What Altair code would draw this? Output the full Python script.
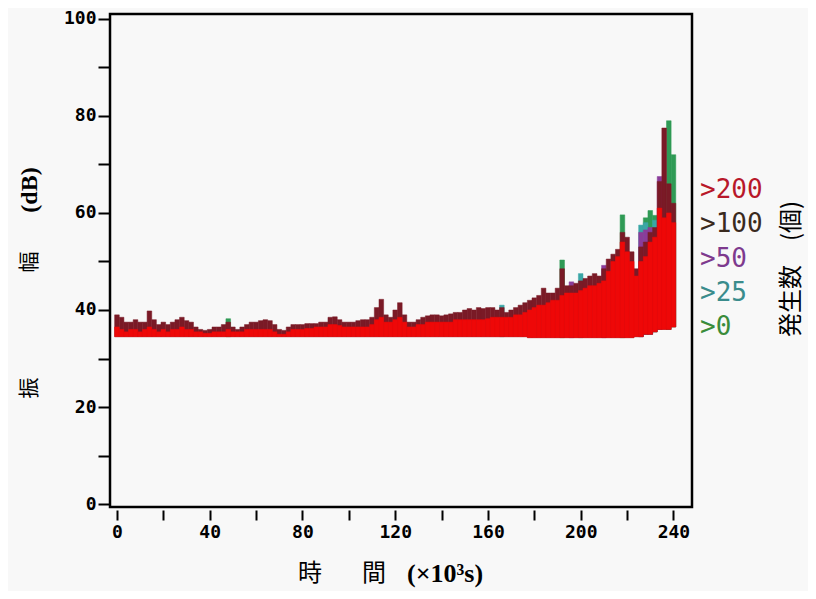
import altair as alt
import pandas as pd

# time bins (x10^3 s), 2-unit wide
times = list(range(0, 242, 2))

# bottom of the amplitude band at each time bin (dB)
lo = [
    34.5, 34.5, 34.5, 34.5, 34.5, 34.5, 34.5, 34.5, 34.5, 34.5,
    34.5, 34.5, 34.5, 34.5, 34.5, 34.5, 34.5, 34.5, 34.5, 34.5,
    34.5, 34.5, 34.5, 34.5, 34.5, 34.5, 34.5, 34.5, 34.5, 34.5,
    34.5, 34.5, 34.5, 34.5, 34.5, 34.5, 34.5, 34.5, 34.5, 34.5,
    34.5, 34.5, 34.5, 34.5, 34.5, 34.5, 34.5, 34.5, 34.5, 34.5,
    34.5, 34.5, 34.5, 34.5, 34.5, 34.5, 34.5, 34.5, 34.5, 34.5,
    34.5, 34.5, 34.5, 34.5, 34.5, 34.5, 34.5, 34.5, 34.5, 34.5,
    34.5, 34.5, 34.5, 34.5, 34.5, 34.5, 34.5, 34.5, 34.5, 34.5,
    34.5, 34.5, 34.5, 34.5, 34.5, 34.5, 34.5, 34.5, 34.5, 34.3,
    34.3, 34.3, 34.3, 34.3, 34.3, 34.3, 34.3, 34.3, 34.3, 34.3,
    34.3, 34.3, 34.3, 34.3, 34.3, 34.3, 34.3, 34.3, 34.3, 34.3,
    34.3, 34.3, 34.5, 34.5, 35.0, 35.0, 35.5, 36.0, 36.0, 36.0,
    36.5,
]

# top of the ">200" (red) region
red_top = [
    36.5, 36.0, 35.5, 36.0, 36.0, 35.5, 36.0, 36.5, 36.0, 35.5,
    36.0, 35.5, 36.0, 36.0, 36.5, 36.0, 36.0, 35.5, 35.5, 35.2,
    35.2, 35.5, 35.5, 35.5, 36.0, 35.5, 35.5, 35.5, 36.0, 36.0,
    36.0, 36.0, 36.0, 36.0, 35.5, 35.0, 35.0, 35.5, 36.0, 36.0,
    36.0, 36.2, 36.2, 36.5, 36.5, 36.5, 37.0, 37.0, 36.8, 36.5,
    36.5, 36.5, 36.5, 36.5, 36.5, 37.0, 38.0, 38.5, 37.5, 37.5,
    38.0, 38.5, 37.5, 36.5, 36.5, 37.0, 37.0, 37.5, 37.5, 37.5,
    37.5, 37.5, 37.5, 38.0, 38.0, 38.0, 38.0, 38.0, 38.0, 38.0,
    38.2, 38.5, 38.5, 38.5, 38.5, 38.5, 39.0, 39.0, 39.5, 40.0,
    40.5, 41.0, 41.0, 41.5, 42.0, 42.0, 43.0, 43.5, 43.5, 43.5,
    44.0, 44.5, 45.0, 45.0, 45.5, 46.0, 48.0, 50.0, 51.0, 54.0,
    52.0, 50.0, 47.0, 50.0, 51.0, 54.0, 55.0, 61.0, 59.0, 60.0,
    58.0,
]

# top of the ">100" (dark) region
cap_top = [
    39.0, 38.5, 37.5, 37.5, 38.0, 37.5, 37.5, 39.8, 38.0, 37.0,
    37.5, 37.0, 37.5, 38.0, 38.5, 37.8, 37.5, 36.5, 36.0, 35.8,
    36.0, 36.5, 36.5, 37.0, 37.5, 36.5, 36.0, 36.5, 37.0, 37.5,
    37.5, 37.8, 38.0, 37.8, 37.0, 36.0, 35.8, 36.5, 37.0, 37.0,
    37.0, 37.2, 37.2, 37.2, 37.5, 37.5, 38.5, 38.6, 38.0, 37.5,
    37.5, 37.5, 37.8, 38.0, 38.0, 38.5, 40.5, 42.2, 39.0, 38.5,
    40.0, 41.5, 39.0, 37.5, 37.5, 38.0, 38.5, 38.8, 39.0, 39.0,
    38.8, 39.0, 39.2, 39.5, 39.5, 40.0, 40.3, 40.0, 40.5, 40.3,
    40.5, 40.5, 40.0, 40.5, 39.5, 40.0, 40.5, 41.0, 41.5, 42.0,
    42.5, 43.0, 44.5, 43.5, 43.5, 44.5, 48.5, 45.0, 45.0, 45.5,
    46.0, 46.5, 47.0, 47.5, 47.0, 48.5, 50.5, 51.5, 52.5, 56.0,
    55.0, 52.0, 48.5, 53.0, 54.0, 56.0, 57.0, 66.5, 77.5, 66.0,
    62.0,
]

# sparse tips (time, top) for the lower-count classes
purple_tips = [(196, 45.8), (210, 49.2), (226, 56.0), (228, 56.5), (230, 57.0), (234, 67.5)]
teal_tips = [(166, 41.0), (200, 47.5), (226, 57.5), (228, 58.0), (232, 58.5)]
green_tips = [(48, 38.2), (192, 50.3), (218, 59.6), (228, 59.0), (230, 60.5), (232, 59.5), (238, 79.0), (240, 72.0)]

layers = ["g", "t", "p", "c", "r"]
layer_colors = ["#2f9a55", "#3aa6a6", "#8a3c9a", "#7a1a26", "#ee0808"]

legend_labels = [">200", ">100", ">50", ">25", ">0"]
legend_colors = ["#b8182a", "#3a2a1e", "#7e3a8e", "#3a8c8c", "#3a8c3a"]

rows = []
def add(layer, t, top):
    i = times.index(t)
    rows.append({"layer": layer, "t0": t - 1, "t1": t + 1, "lo": lo[i], "hi": top})

for t, v in green_tips:
    add("g", t, v)
for t, v in teal_tips:
    add("t", t, v)
for t, v in purple_tips:
    add("p", t, v)
for t, v in zip(times, cap_top):
    add("c", t, v)
for t, v in zip(times, red_top):
    add("r", t, v)
df = pd.DataFrame(rows)

x_scale = alt.Scale(domain=[-3, 248], nice=False, zero=False)
y_scale = alt.Scale(domain=[-0.6, 101], nice=False, zero=False)
col_scale = alt.Scale(domain=layers, range=layer_colors)

bars = alt.Chart(df).mark_rect(strokeWidth=0.5).encode(
    x=alt.X("t0:Q", scale=x_scale, axis=alt.Axis(
        values=list(range(0, 241, 20)),
        labelExpr="datum.value % 40 == 0 ? datum.label : ''",
        title="",
        tickSize=10, tickWidth=2, tickColor="black", domain=False, offset=3, grid=False,
        labelFont="DejaVu Sans Mono", labelFontSize=18, labelFontWeight="bold", labelColor="black",
        labelPadding=3, labelOverlap=False, labelFlush=False,
    )),
    x2="t1:Q",
    y=alt.Y("lo:Q", scale=y_scale, axis=alt.Axis(
        values=list(range(0, 101, 10)),
        labelExpr="datum.value % 20 == 0 ? datum.label : ''",
        title="",
        tickSize=12, tickWidth=2, tickColor="black", domain=False, grid=False,
        labelFont="DejaVu Sans Mono", labelFontSize=18, labelFontWeight="bold", labelColor="black",
        labelPadding=2, labelOverlap=False, labelFlush=False,
    )),
    y2="hi:Q",
    color=alt.Color("layer:N", scale=col_scale, legend=None),
    stroke=alt.Stroke("layer:N", scale=col_scale, legend=None),
)

leg_df = pd.DataFrame({"label": legend_labels, "col": legend_colors})
legend = alt.Chart(leg_df).mark_text(
    align="left", baseline="middle", font="DejaVu Sans Mono", fontSize=26
).encode(
    x=alt.value(590),
    y=alt.Y("label:N", sort=legend_labels, scale=alt.Scale(range=[176, 313], padding=0), axis=None),
    text="label:N",
    color=alt.Color("col:N", scale=None),
)

# title texts
x_title_kanji = ["時", "間"]
x_title_unit = ["(×10³s)"]
y_title_kanji = ["振　　　　　幅"]
y_title_unit = ["(dB)"]
side_title = ["発生数　(個)"]

def txt(text, x, y, **kw):
    return alt.Chart(pd.DataFrame({"t": [text]})).mark_text(color="black", **kw).encode(
        x=alt.value(x), y=alt.value(y), text="t:N")

cjk = "Noto Sans CJK JP"
serif = "Liberation Serif"
titles = [
    txt(x_title_kanji[0], 200, 560, font=cjk, fontSize=24, align="center", baseline="middle"),
    txt(x_title_kanji[1], 264, 560, font=cjk, fontSize=24, align="center", baseline="middle"),
    txt(x_title_unit[0], 297, 560, font=serif, fontSize=26, fontWeight="bold", align="left", baseline="middle"),
    txt(y_title_kanji[0], -80, 311, font=cjk, fontSize=21, angle=270, align="center", baseline="middle"),
    txt(y_title_unit[0], -80, 176, font=serif, fontSize=24, fontWeight="bold", angle=270, align="center", baseline="middle"),
    txt(side_title[0], 682, 255, font=cjk, fontSize=24, angle=270, align="center", baseline="middle"),
]

chart = alt.layer(bars, legend, *titles).resolve_scale(
    y="independent", color="independent"
).properties(
    width=582, height=493,
    autosize=alt.AutoSizeParams(type="none"),
    padding={"left": 102, "top": 6, "right": 116, "bottom": 84},
    background="#f8f8f8",
).configure_view(stroke="black", strokeWidth=2.5, fill="#f8f8f8")

chart.save("out.html", embed_options={"renderer": "svg", "actions": False})
